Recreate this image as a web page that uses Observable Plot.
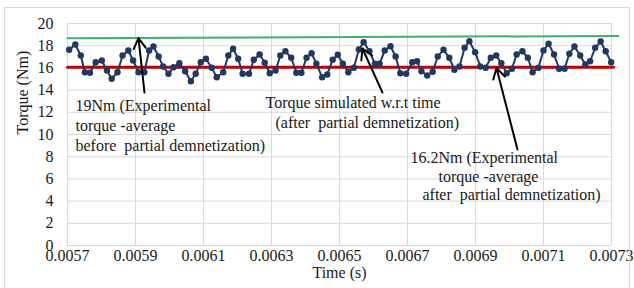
<!DOCTYPE html>
<html>
<head>
<meta charset="utf-8">
<script src="https://cdn.jsdelivr.net/npm/d3@7"></script>
<script src="https://cdn.jsdelivr.net/npm/@observablehq/plot@0.6"></script>
<style>
  html, body { margin: 0; padding: 0; background: #fff; }
  #wrap { position: relative; width: 634px; height: 288px; overflow: hidden; }
  #border { position: absolute; left: 4px; top: 7px; width: 626px; height: 282px; border: 1px solid #d9d9d9; box-sizing: border-box; pointer-events: none; }
  svg, svg text { font-family: "Liberation Serif", "Times New Roman", serif !important; }
  svg text { white-space: pre; }
</style>
</head>
<body>
<div id="wrap"><div id="border"></div></div>
<script>
// Time (s) of each simulated sample
const times = [
  0.005705,0.005723,0.005739,0.005751,0.005766,0.005783,0.005801,0.005816,0.005830,0.005847,
  0.005862,0.005879,0.005893,0.005909,0.005926,0.005940,0.005953,0.005968,0.005981,0.005997,
  0.006012,0.006029,0.006046,0.006063,0.006077,0.006092,0.006107,0.006124,0.006139,0.006158,
  0.006173,0.006187,0.006202,0.006215,0.006234,
  0.006248,0.006265,0.006280,0.006295,0.006312,0.006326,0.006341,0.006358,0.006373,0.006388,
  0.006403,0.006418,0.006432,0.006449,0.006464,0.006480,0.006495,0.006510,0.006526,0.006542,
  0.006557,0.006571,0.006588,0.006604,0.006618,0.006633,0.006650,0.006665,0.006679,0.006696,
  0.006714,0.006728,0.006741,0.006758,0.006774,
  0.006789,0.006806,0.006823,0.006838,0.006853,0.006868,0.006882,0.006899,0.006914,0.006930,
  0.006945,0.006961,0.006976,0.006992,0.007007,0.007021,0.007038,0.007054,0.007068,0.007085,
  0.007100,0.007115,0.007131,0.007146,0.007162,0.007176,0.007191,0.007208,0.007223,0.007237,
  0.007252,0.007268,0.007283,0.007299
];
// Simulated torque (Nm) after partial demagnetization
const torque = [
  17.63,18.11,17.12,15.61,15.56,16.51,16.67,15.77,15.02,15.61,
  17.12,17.57,16.67,15.61,15.61,17.57,17.93,17.03,16.13,15.47,
  16.06,16.42,15.70,14.80,15.47,16.51,16.82,16.01,15.16,15.61,
  17.12,17.72,16.82,15.47,15.47,
  16.73,17.21,16.46,15.52,15.77,17.12,17.50,16.91,15.56,15.56,
  16.91,17.32,16.37,15.16,15.41,16.73,17.18,16.37,15.61,16.01,
  17.66,18.32,17.50,16.37,16.37,17.57,17.95,17.03,15.52,15.47,
  16.51,16.60,15.70,15.32,15.65,
  17.03,17.63,16.91,15.83,16.13,17.81,18.41,17.41,16.13,16.01,
  16.91,17.12,16.42,15.52,15.92,17.21,17.50,16.91,15.61,16.01,
  17.57,18.17,17.21,15.92,15.92,17.27,17.93,17.12,16.31,16.60,
  17.81,18.38,17.50,16.51
];
// Experimental average lines (as drawn: start/end time and torque)
const beforeLineT = [0.0057, 0.00732];
const beforeLineV = [18.68, 18.88];
const afterLineT = [0.0057, 0.007306];
const afterLineV = [16.06, 16.06];

const xTicks = [0.0057,0.0059,0.0061,0.0063,0.0065,0.0067,0.0069,0.0071,0.0073];
const yTicks = [0,2,4,6,8,10,12,14,16,18,20];

const xLabel = "Time (s)";
const yLabel = "Torque (Nm)";

// Annotation text lines
const noteLines = [
  "19Nm (Experimental", "torque -average", "before  partial demnetization)",
  "Torque simulated w.r.t time", "(after  partial demnetization)",
  "16.2Nm (Experimental", "torque -average", "after  partial demnetization)"
];
// Annotation anchors (data units)
const noteT = [0.0057235,0.0057235,0.0057235, 0.0062824,0.0063118, 0.0067088,0.0067912,0.0067441];
const noteV = [12.61,10.81,9.01, 12.88,11.08, 7.93,6.22,4.59];
// Arrows: tail -> head (data units)
const arrowT1 = [0.0059265, 0.0066265, 0.0070235];
const arrowV1 = [13.78, 13.78, 8.65];
const arrowT2 = [0.0059088, 0.0065676, 0.0069618];
const arrowV2 = [18.69, 17.75, 15.99];

const series = times.map((t, i) => ({t, v: torque[i]}));
const before = beforeLineT.map((t, i) => ({t, v: beforeLineV[i]}));
const after = afterLineT.map((t, i) => ({t, v: afterLineV[i]}));
const notes = noteLines.map((s, i) => ({s, t: noteT[i], v: noteV[i]}));
const arrows = arrowT1.map((t, i) => ({x1: t, y1: arrowV1[i], x2: arrowT2[i], y2: arrowV2[i]}));

const font = "'Liberation Serif', 'Times New Roman', serif";
const navy = "#1f3864";
const ink = "#1a1a1a";

const chart = Plot.plot({
  width: 634,
  height: 288,
  marginLeft: 67,
  marginRight: 23,
  marginTop: 23,
  marginBottom: 43,
  style: {fontFamily: font, fontSize: "16px", color: ink, background: "transparent", overflow: "visible"},
  x: {domain: [0.0057, 0.0073], ticks: xTicks, tickFormat: d3.format(".4f"), label: null},
  y: {domain: [0, 20], ticks: yTicks, label: null},
  marks: [
    Plot.gridX(xTicks, {stroke: "#d9d9d9", strokeOpacity: 1}),
    Plot.gridY(yTicks, {stroke: "#d9d9d9", strokeOpacity: 1}),
    Plot.axisX(xTicks, {tickSize: 0, tickPadding: 4, tickFormat: d3.format(".4f"), fontSize: 16, fontFamily: font, label: null}),
    Plot.axisY(yTicks, {tickSize: 0, tickPadding: 14, fontSize: 16, fontFamily: font, label: null}),
    Plot.line(before, {x: "t", y: "v", stroke: "#3cb371", strokeWidth: 2}),
    Plot.line(after, {x: "t", y: "v", stroke: "#c00000", strokeWidth: 3}),
    Plot.line(series, {x: "t", y: "v", stroke: navy, strokeWidth: 2}),
    Plot.dot(series, {x: "t", y: "v", r: 3.2, fill: navy, stroke: null}),
    Plot.arrow(arrows, {x1: "x1", y1: "y1", x2: "x2", y2: "y2", stroke: "#000", strokeWidth: 2, headLength: 9, bend: 0}),
    Plot.text(notes, {x: "t", y: "v", text: "s", textAnchor: "start", lineAnchor: "middle", fontSize: 16, fontFamily: font, fill: ink}),
    Plot.text([xLabel], {frameAnchor: "bottom", dy: 32, text: d => d, fontSize: 16, fontFamily: font, fill: ink}),
    Plot.text([yLabel], {frameAnchor: "left", dx: -45, rotate: -90, text: d => d, fontSize: 16, fontFamily: font, fill: ink})
  ]
});
document.getElementById("wrap").prepend(chart);
</script>
</body>
</html>
